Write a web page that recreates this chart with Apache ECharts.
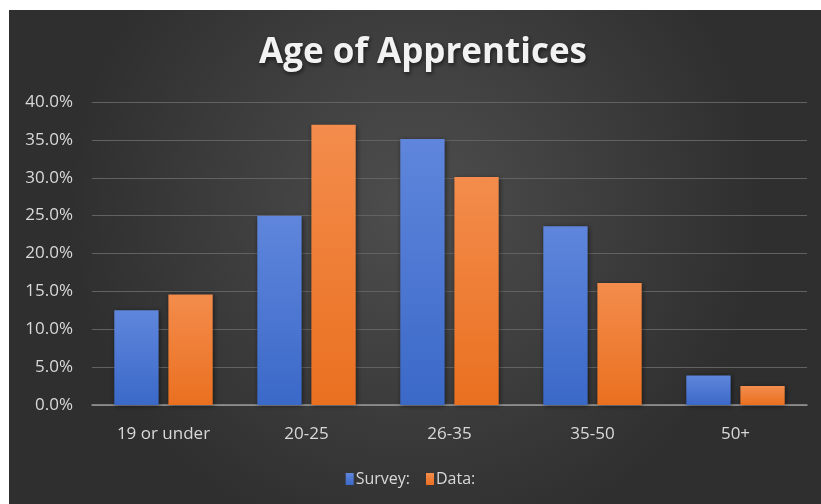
<!DOCTYPE html>
<html>
<head>
<meta charset="utf-8">
<script src="https://cdn.jsdelivr.net/npm/echarts@6/dist/echarts.min.js"></script>
<style>
html,body{margin:0;padding:0;background:#ffffff;}
#chart{width:821px;height:504px;}
</style>
</head>
<body>
<div id="chart"></div>
<script>
var categories = ['19 or under', '20-25', '26-35', '35-50', '50+'];
var surveyValues = [12.5, 25.0, 35.1, 23.6, 3.9];
var dataValues = [14.6, 37.0, 30.1, 16.1, 2.5];
var seriesNames = ['Survey:', 'Data:'];
var titleText = 'Age of Apprentices';

var chart = echarts.init(document.getElementById('chart'), null, {renderer: 'canvas'});
var labelFont = '"Open Sans", sans-serif';
var blueGrad = new echarts.graphic.LinearGradient(0, 0, 0, 1, [
  {offset: 0, color: '#5f86dc'}, {offset: 1, color: '#3b69c8'}]);
var orangeGrad = new echarts.graphic.LinearGradient(0, 0, 0, 1, [
  {offset: 0, color: '#f38c4c'}, {offset: 1, color: '#ea7020'}]);

chart.setOption({
  backgroundColor: '#ffffff',
  animation: false,
  graphic: [{
    type: 'rect', z: -10, silent: true,
    shape: {x: 9, y: 10, width: 812, height: 494},
    style: {fill: new echarts.graphic.RadialGradient(0.5, 0.4, 0.7, [
      {offset: 0, color: '#4e4e4e'}, {offset: 1, color: '#2f2f2f'}])}
  }],
  title: {
    text: titleText, left: 418, textAlign: 'center', top: 31,
    textStyle: {
      color: '#f2f2f2', fontSize: 35, fontWeight: 'bold', fontFamily: '"Open Sans", sans-serif',
      textShadowColor: 'rgba(0,0,0,0.6)', textShadowBlur: 4, textShadowOffsetX: 1, textShadowOffsetY: 2
    }
  },
  legend: {
    data: seriesNames, bottom: 12, left: 'center',
    itemWidth: 8, itemHeight: 12, itemGap: 16,
    icon: 'rect',
    textStyle: {color: '#d9d9d9', fontSize: 16, fontFamily: labelFont, padding: [0, 0, 0, -3]}
  },
  grid: {left: 92, right: 14, top: 102, bottom: 99},
  xAxis: {
    type: 'category', data: categories,
    axisLine: {lineStyle: {color: '#9a9a9a', width: 1.5}},
    axisTick: {show: false},
    axisLabel: {color: '#d9d9d9', fontSize: 17, fontFamily: labelFont, margin: 21}
  },
  yAxis: {
    type: 'value', min: 0, max: 40, interval: 5,
    axisLine: {show: false}, axisTick: {show: false},
    splitLine: {lineStyle: {color: '#626262', width: 1}},
    axisLabel: {color: '#d9d9d9', fontSize: 17, fontFamily: labelFont, margin: 19,
      formatter: function (v) { return v.toFixed(1) + '%'; }}
  },
  series: [{
    name: seriesNames[0], type: 'bar', data: surveyValues,
    barWidth: '31%', barGap: '22%',
    itemStyle: {color: blueGrad, shadowColor: 'rgba(0,0,0,0.5)', shadowBlur: 5, shadowOffsetX: 1, shadowOffsetY: 1}
  }, {
    name: seriesNames[1], type: 'bar', data: dataValues,
    barWidth: '31%', barGap: '22%',
    itemStyle: {color: orangeGrad, shadowColor: 'rgba(0,0,0,0.5)', shadowBlur: 5, shadowOffsetX: 1, shadowOffsetY: 1}
  }]
});
</script>
</body>
</html>
